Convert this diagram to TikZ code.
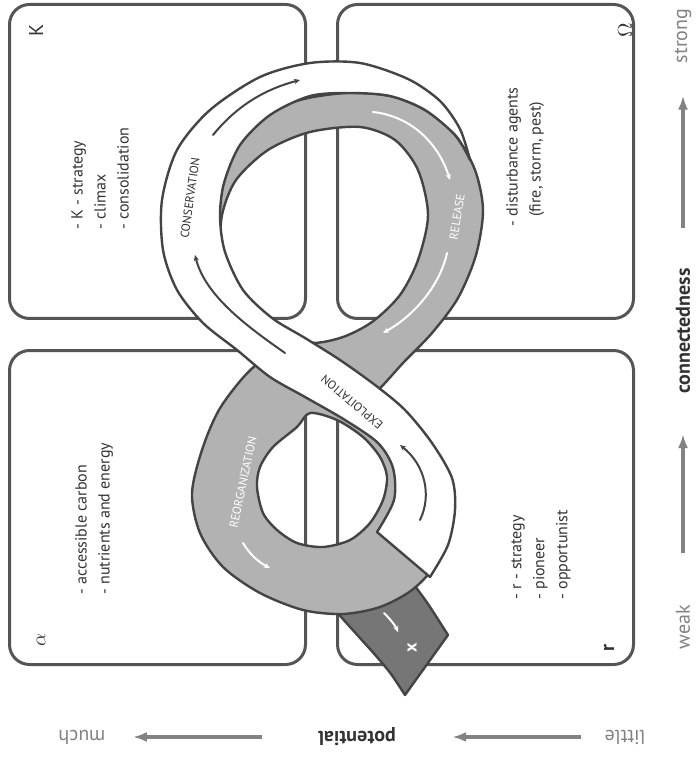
\documentclass[tikz,border=0pt]{standalone}
\usepackage{fontspec}
\setmainfont{PT Sans}
\usetikzlibrary{arrows.meta,positioning}
\definecolor{rim}{RGB}{85,85,85}
\definecolor{edge}{RGB}{68,68,68}
\definecolor{band}{RGB}{178,178,178}
\definecolor{tailc}{RGB}{118,118,118}
\definecolor{ink}{RGB}{50,50,50}
\definecolor{pale}{RGB}{130,130,130}
\tikzset{
  quad/.style={draw=rim, line width=1.5pt, rounded corners=10pt,
               minimum width=148pt, minimum height=157pt, inner sep=0pt},
  ribbon/.style={draw=edge, line width=1.2pt, line join=round},
  items/.style={rotate=90, anchor=north west, align=left, inner sep=0pt,
                text=ink, font=\fontsize{8}{11.5}\selectfont},
  corner/.style={rotate=90, inner sep=0pt, text=ink, font=\fontsize{10}{12}\selectfont},
  phase/.style={inner sep=0pt, font=\fontsize{6}{7}\selectfont},
  flowline/.style={line width=1pt, line cap=round, -{Stealth[length=3pt,width=2.6pt]}},
  axislabel/.style={inner sep=0pt, text=pale, font=\fontsize{10}{12}\selectfont},
  axisname/.style={inner sep=0pt, text=ink, font=\bfseries\fontsize{10}{12}\selectfont},
  axisarrow/.style={draw=pale, line width=1.8pt, -{Latex[length=7pt,width=5pt]}},
}
\begin{document}
\begin{tikzpicture}[x=0.5pt, y=-0.5pt, node distance=14.5pt]
  \useasboundingbox (0,0) rectangle (697,758);
  % four phase boxes
  \node[quad] (kbox) at (157.5,161.5) {};
  \node[quad, right=of kbox] (obox) {};
  \node[quad, below=of kbox] (abox) {};
  \node[quad, below=of obox] (rbox) {};
  \node[corner] (klab) at ([shift={(28,27)}]kbox.north west) {K};
  \node[corner] (olab) at ([shift={(-10,27)}]obox.north east) {$\Omega$};
  \node[corner] (alab) at ([shift={(33,-26)}]abox.south west) {$\alpha$};
  \node[corner] (rlab) at ([shift={(-26,-18)}]rbox.south east) {\textbf{r}};
  \node[items] (kitems) at (71,230) {- K - strategy\\- climax\\- consolidation};
  \node[items] (aitems) at (75,595) {- accessible carbon\\- nutrients and energy};
  \node[items] (oitems) at (506,227) {- disturbance agents\\\hphantom{- }(fire, storm, pest)};
  \node[items] (ritems) at (511,600) {- r - strategy\\- pioneer\\- opportunist};

  % exit tail
  \draw[ribbon, fill=tailc] plot[smooth] coordinates {(325,598) (342,618) (360,638) (377,657) (391,674) (405,695)}
    -- plot[smooth] coordinates {(448,635) (428,604) (412,582)} -- cycle;
  % back loop (alpha side)
  \draw[ribbon, fill=band, even odd rule]
    plot[smooth cycle] coordinates {(222,405) (203,447) (192,493) (200,533) (223,567) (260,593) (303,610)
      (343,614) (380,607) (412,590) (435,565) (446,530) (443,495) (425,457) (400,427) (370,402)
      (330,380) (290,370) (258,364)}
    plot[smooth cycle] coordinates {(310,413) (297,427) (273,447) (260,467) (257,487) (263,513) (277,530)
      (297,543) (323,547) (350,540) (370,523) (383,500) (387,477) (380,457) (363,437) (337,420)};
  % release loop (K / Omega side)
  \draw[ribbon, fill=band, even odd rule]
    plot[smooth cycle] coordinates {(250,120) (300,100) (347,93) (390,96) (425,110) (455,135) (475,170)
      (483,210) (476,255) (458,298) (432,333) (403,363) (378,390) (360,400) (320,382) (275,350)
      (240,300) (222,250) (220,200) (230,155)}
    plot[smooth cycle] coordinates {(222,215) (236,180) (268,150) (310,132) (360,127) (395,140) (418,170)
      (428,215) (418,260) (400,295) (372,322) (340,338) (305,342) (265,318) (236,285) (222,250)};
  % front loop (exploitation and conservation)
  \draw[ribbon, fill=white]
    plot[smooth] coordinates {(377,532) (394,500) (393,468) (378,443) (345,420) (305,397) (270,377)
      (237,350) (203,323) (177,290) (163,250) (162,200) (177,150) (210,110) (260,77) (310,63)
      (360,63) (408,79) (440,101) (460,129) (470,160)}
    -- plot[smooth] coordinates {(470,160) (456,136) (425,110) (390,96) (350,93) (310,96) (270,115)
      (240,145) (224,183) (220,217) (225,252) (243,290) (272,318) (305,338) (340,360) (375,385)
      (405,410) (432,443) (452,478) (455,510) (448,545) (430,577)} -- cycle;

  % flow marks
  \draw[flowline, draw=edge] (213,135) .. controls (235,108) and (262,90) .. (300,80);
  \draw[flowline, draw=edge] (285,353) .. controls (245,325) and (205,295) .. (195,255);
  \draw[flowline, draw=edge] (420,520) .. controls (432,495) and (425,465) .. (400,445);
  \draw[flowline, white] (373,112) .. controls (410,116) and (438,142) .. (450,180);
  \draw[flowline, white] (447,253) .. controls (440,285) and (415,315) .. (383,333);
  \draw[flowline, white] (243,543) .. controls (250,555) and (260,563) .. (270,568);
  \draw[flowline, white] (384,613) .. controls (390,619) and (395,625) .. (398,632);
  \node[phase, rotate=82, text=ink] (cons) at (190,198) {CONSERVATION};
  \node[phase, rotate=140, text=ink] (expl) at (352,402) {EXPLOITATION};
  \node[phase, rotate=81, text=white] (rel) at (457,217) {RELEASE};
  \node[phase, rotate=78, text=white] (reorg) at (243,482) {REORGANIZATION};
  \node[rotate=90, inner sep=0pt, text=white, font=\bfseries\fontsize{9}{9}\selectfont] (exit) at (412,648) {x};

  % axes
  \node[axislabel, rotate=90] (strong) at (683,36) {strong};
  \node[axisname, rotate=90] (conn) at (683,331) {connectedness};
  \node[axislabel, rotate=90] (weak) at (683,627) {weak};
  \node[axislabel, rotate=180] (much) at (82,737) {much};
  \node[axisname, rotate=180] (pot) at (357,737) {potential};
  \node[axislabel, rotate=180] (little) at (625,737) {little};
  \draw[axisarrow, shorten <=26pt, shorten >=20pt] (weak) -- (conn);
  \draw[axisarrow, shorten <=20pt, shorten >=16pt] (conn) -- (strong);
  \draw[axisarrow, shorten <=11.5pt, shorten >=28pt] (little) -- (pot);
  \draw[axisarrow, shorten <=28pt, shorten >=13.5pt] (pot) -- (much);
\end{tikzpicture}
\end{document}
